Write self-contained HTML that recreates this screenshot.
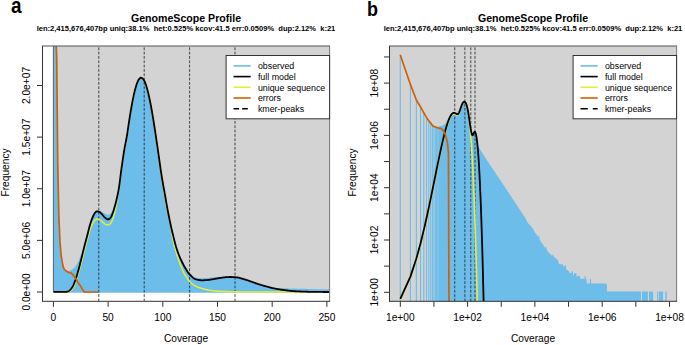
<!DOCTYPE html>
<html><head><meta charset="utf-8"><style>
html,body{margin:0;padding:0;background:#fff;}
svg{display:block;}
text{font-family:"Liberation Sans",sans-serif;fill:#000;}
.t{font-size:10.2px;}
.h{font-size:10.6px;font-weight:bold;}
.s{font-size:7.55px;font-weight:bold;}
.p{font-size:21px;font-weight:bold;}
.l{font-size:8.85px;}
</style></head><body>
<svg width="685" height="345" viewBox="0 0 685 345">
<rect width="685" height="345" fill="#fff"/>
<clipPath id="ca"><rect x="42.5" y="46.0" width="287.1" height="255.3"/></clipPath>
<clipPath id="cb"><rect x="389.5" y="46.0" width="287.1" height="255.3"/></clipPath>
<g clip-path="url(#ca)"><rect x="53.4" y="44.0" width="278.2" height="248" fill="#D3D3D3"/><line x1="53.4" y1="46.0" x2="53.4" y2="292.0" stroke="#333" stroke-width="0.8"/><path d="M53.93,292.7 L53.93,41 L55.05,41 L55.03,41 L56.15,41 L56.12,57.57 L57.24,57.57 L57.22,165.98 L58.34,165.98 L58.31,216.58 L59.43,216.58 L59.4,241.36 L60.52,241.36 L60.5,254.47 L61.62,254.47 L61.59,261.47 L62.71,261.47 L62.69,267.14 L63.81,267.14 L63.78,269.28 L64.9,269.28 L64.87,270.16 L65.99,270.16 L65.97,271.12 L67.09,271.12 L67.06,271.47 L68.18,271.47 L68.16,271.41 L69.28,271.41 L69.25,270.88 L70.37,270.88 L70.34,269.99 L71.46,269.99 L71.44,269.52 L72.56,269.52 L72.53,268.69 L73.65,268.69 L73.63,267.76 L74.75,267.76 L74.72,266.48 L75.84,266.48 L75.81,264.8 L76.93,264.8 L76.91,263.27 L78.03,263.27 L78,260.91 L79.12,260.91 L79.1,258.21 L80.22,258.21 L80.19,255.44 L81.31,255.44 L81.28,253.07 L82.4,253.07 L82.38,250.18 L83.5,250.18 L83.47,247.82 L84.59,247.82 L84.57,243.45 L85.69,243.45 L85.66,239.3 L86.78,239.3 L86.75,235.24 L87.87,235.24 L87.85,230.88 L88.97,230.88 L88.94,226.56 L90.06,226.56 L90.04,222.91 L91.16,222.91 L91.13,219.69 L92.25,219.69 L92.22,216.89 L93.34,216.89 L93.32,214.45 L94.44,214.45 L94.41,212.57 L95.53,212.57 L95.51,211.35 L96.63,211.35 L96.6,210.67 L97.72,210.67 L97.69,210.58 L98.81,210.58 L98.79,210.64 L99.91,210.64 L99.88,210.93 L101,210.93 L100.98,211.55 L102.1,211.55 L102.07,212.17 L103.19,212.17 L103.16,212.93 L104.28,212.93 L104.26,213.57 L105.38,213.57 L105.35,214.03 L106.47,214.03 L106.45,214.52 L107.57,214.52 L107.54,214.75 L108.66,214.75 L108.63,214.43 L109.75,214.43 L109.73,213.73 L110.85,213.73 L110.82,212.45 L111.94,212.45 L111.92,210.29 L113.04,210.29 L113.01,207.75 L114.13,207.75 L114.1,204.67 L115.22,204.67 L115.2,201.02 L116.32,201.02 L116.29,196.85 L117.41,196.85 L117.39,192.3 L118.51,192.3 L118.48,186.58 L119.6,186.58 L119.57,178.54 L120.69,178.54 L120.67,170.14 L121.79,170.14 L121.76,162.47 L122.88,162.47 L122.86,155.1 L123.98,155.1 L123.95,148.47 L125.07,148.47 L125.04,142.82 L126.16,142.82 L126.14,137.14 L127.26,137.14 L127.23,130.22 L128.35,130.22 L128.33,122.65 L129.45,122.65 L129.42,115.69 L130.54,115.69 L130.51,109.14 L131.63,109.14 L131.61,103.04 L132.73,103.04 L132.7,97.51 L133.82,97.51 L133.8,92.52 L134.92,92.52 L134.89,88.24 L136.01,88.24 L135.98,84.57 L137.1,84.57 L137.08,81.72 L138.2,81.72 L138.17,79.53 L139.29,79.53 L139.27,78.33 L140.39,78.33 L140.36,77.71 L141.48,77.71 L141.45,78.06 L142.57,78.06 L142.55,78.93 L143.67,78.93 L143.64,80.67 L144.76,80.67 L144.74,83.11 L145.86,83.11 L145.83,86.29 L146.95,86.29 L146.92,90.07 L148.04,90.07 L148.02,94.52 L149.14,94.52 L149.11,99.5 L150.23,99.5 L150.21,105.05 L151.33,105.05 L151.3,111.04 L152.42,111.04 L152.39,117.47 L153.51,117.47 L153.49,124.25 L154.61,124.25 L154.58,131.33 L155.7,131.33 L155.68,138.66 L156.8,138.66 L156.77,146.15 L157.89,146.15 L157.86,153.77 L158.98,153.77 L158.96,161.48 L160.08,161.48 L160.05,169.24 L161.17,169.24 L161.15,176.31 L162.27,176.31 L162.24,182.84 L163.36,182.84 L163.33,188.96 L164.45,188.96 L164.43,194.93 L165.55,194.93 L165.52,201.25 L166.64,201.25 L166.62,207.45 L167.74,207.45 L167.71,213.28 L168.83,213.28 L168.8,218.8 L169.92,218.8 L169.9,224.05 L171.02,224.05 L170.99,228.93 L172.11,228.93 L172.09,233.5 L173.21,233.5 L173.18,237.91 L174.3,237.91 L174.27,242.3 L175.39,242.3 L175.37,246.34 L176.49,246.34 L176.46,249.78 L177.58,249.78 L177.56,252.84 L178.68,252.84 L178.65,255.61 L179.77,255.61 L179.74,258.14 L180.86,258.14 L180.84,260.46 L181.96,260.46 L181.93,262.62 L183.05,262.62 L183.03,264.65 L184.15,264.65 L184.12,266.54 L185.24,266.54 L185.21,268.34 L186.33,268.34 L186.31,270.1 L187.43,270.1 L187.4,271.69 L188.52,271.69 L188.5,273 L189.62,273 L189.59,274.08 L190.71,274.08 L190.68,275.11 L191.8,275.11 L191.78,276.04 L192.9,276.04 L192.87,276.82 L193.99,276.82 L193.97,277.4 L195.09,277.4 L195.06,277.74 L196.18,277.74 L196.15,277.92 L197.27,277.92 L197.25,278.08 L198.37,278.08 L198.34,278.2 L199.46,278.2 L199.44,278.28 L200.56,278.28 L200.53,278.3 L201.65,278.3 L201.62,278.27 L202.74,278.27 L202.72,278.2 L203.84,278.2 L203.81,278.12 L204.93,278.12 L204.91,278.03 L206.03,278.03 L206,277.96 L207.12,277.96 L207.09,277.89 L208.21,277.89 L208.19,277.78 L209.31,277.78 L209.28,277.64 L210.4,277.64 L210.38,277.5 L211.5,277.5 L211.47,277.38 L212.59,277.38 L212.56,277.28 L213.68,277.28 L213.66,277.19 L214.78,277.19 L214.75,277.11 L215.87,277.11 L215.85,277.04 L216.97,277.04 L216.94,276.97 L218.06,276.97 L218.03,276.9 L219.15,276.9 L219.13,276.85 L220.25,276.85 L220.22,276.8 L221.34,276.8 L221.32,276.75 L222.44,276.75 L222.41,276.69 L223.53,276.69 L223.5,276.64 L224.62,276.64 L224.6,276.61 L225.72,276.61 L225.69,276.61 L226.81,276.61 L226.79,276.62 L227.91,276.62 L227.88,276.64 L229,276.64 L228.97,276.66 L230.09,276.66 L230.07,276.71 L231.19,276.71 L231.16,276.78 L232.28,276.78 L232.26,276.87 L233.38,276.87 L233.35,276.97 L234.47,276.97 L234.44,277.09 L235.56,277.09 L235.54,277.22 L236.66,277.22 L236.63,277.35 L237.75,277.35 L237.73,277.54 L238.85,277.54 L238.82,277.81 L239.94,277.81 L239.91,278.12 L241.03,278.12 L241.01,278.45 L242.13,278.45 L242.1,278.78 L243.22,278.78 L243.2,279.1 L244.32,279.1 L244.29,279.43 L245.41,279.43 L245.38,279.79 L246.5,279.79 L246.48,280.15 L247.6,280.15 L247.57,280.52 L248.69,280.52 L248.67,280.9 L249.79,280.9 L249.76,281.27 L250.88,281.27 L250.85,281.65 L251.97,281.65 L251.95,282.05 L253.07,282.05 L253.04,282.45 L254.16,282.45 L254.14,282.85 L255.26,282.85 L255.23,283.25 L256.35,283.25 L256.32,283.63 L257.44,283.63 L257.42,283.99 L258.54,283.99 L258.51,284.34 L259.63,284.34 L259.61,284.68 L260.73,284.68 L260.7,285.01 L261.82,285.01 L261.79,285.34 L262.91,285.34 L262.89,285.66 L264.01,285.66 L263.98,285.97 L265.1,285.97 L265.08,286.27 L266.2,286.27 L266.17,286.57 L267.29,286.57 L267.26,286.86 L268.38,286.86 L268.36,287.14 L269.48,287.14 L269.45,287.43 L270.57,287.43 L270.55,287.71 L271.67,287.71 L271.64,287.85 L272.76,287.85 L272.73,287.89 L273.85,287.89 L273.83,287.93 L274.95,287.93 L274.92,287.96 L276.04,287.96 L276.02,288 L277.14,288 L277.11,288.04 L278.23,288.04 L278.2,288.08 L279.32,288.08 L279.3,288.11 L280.42,288.11 L280.39,288.15 L281.51,288.15 L281.49,288.19 L282.61,288.19 L282.58,288.22 L283.7,288.22 L283.67,288.25 L284.79,288.25 L284.77,288.29 L285.89,288.29 L285.86,288.32 L286.98,288.32 L286.96,288.36 L288.08,288.36 L288.05,288.39 L289.17,288.39 L289.14,288.42 L290.26,288.42 L290.24,288.45 L291.36,288.45 L291.33,288.48 L292.45,288.48 L292.43,288.51 L293.55,288.51 L293.52,288.54 L294.64,288.54 L294.61,288.57 L295.73,288.57 L295.71,288.6 L296.83,288.6 L296.8,288.63 L297.92,288.63 L297.9,288.66 L299.02,288.66 L298.99,288.69 L300.11,288.69 L300.08,288.72 L301.2,288.72 L301.18,288.75 L302.3,288.75 L302.27,288.77 L303.39,288.77 L303.37,288.8 L304.49,288.8 L304.46,288.83 L305.58,288.83 L305.55,288.86 L306.67,288.86 L306.65,288.88 L307.77,288.88 L307.74,288.91 L308.86,288.91 L308.84,288.93 L309.96,288.93 L309.93,288.96 L311.05,288.96 L311.02,288.98 L312.14,288.98 L312.12,289.01 L313.24,289.01 L313.21,289.03 L314.33,289.03 L314.31,289.06 L315.43,289.06 L315.4,289.08 L316.52,289.08 L316.49,289.1 L317.61,289.1 L317.59,289.13 L318.71,289.13 L318.68,289.15 L319.8,289.15 L319.78,289.17 L320.9,289.17 L320.87,289.19 L321.99,289.19 L321.96,289.21 L323.08,289.21 L323.06,289.24 L324.18,289.24 L324.15,289.26 L325.27,289.26 L325.25,289.28 L326.37,289.28 L326.34,289.3 L327.46,289.3 L327.43,289.32 L328.55,289.32 L328.53,289.34 L329.65,289.34 L329.62,289.36 L330.74,289.36 L330.72,289.38 L331.84,289.38 L331.81,289.4 L332.93,289.4 L332.9,289.42 L334.02,289.42 L334,289.44 L335.12,289.44 L335.09,289.46 L336.21,289.46 L336.19,289.48 L337.31,289.48 L337.28,289.5 L338.4,289.5 L338.4,292.7 Z" fill="#6CBDEA"/><line x1="98.8" y1="301.3" x2="98.8" y2="46.0" stroke="#222" stroke-width="0.8" stroke-dasharray="2.8,1.53"/><line x1="144.2" y1="301.3" x2="144.2" y2="46.0" stroke="#222" stroke-width="0.8" stroke-dasharray="2.8,1.53"/><line x1="189.6" y1="301.3" x2="189.6" y2="46.0" stroke="#222" stroke-width="0.8" stroke-dasharray="2.8,1.53"/><line x1="235" y1="301.3" x2="235" y2="46.0" stroke="#222" stroke-width="0.8" stroke-dasharray="2.8,1.53"/><path d="M53.4,292 L53.9,292 L54.4,292 L54.9,292 L55.4,292 L55.9,292 L56.4,292 L56.9,292 L57.4,292 L57.9,292 L58.4,292 L58.9,292 L59.4,292 L59.9,292 L60.4,292 L60.9,292 L61.4,292 L61.9,292 L62.4,292 L62.9,292 L63.4,292 L63.9,292 L64.4,292 L64.9,291.99 L65.4,291.98 L65.9,291.97 L66.4,291.95 L66.9,291.93 L67.4,291.91 L67.9,291.86 L68.4,291.74 L68.9,291.58 L69.4,291.37 L69.9,291.12 L70.4,290.86 L70.9,290.53 L71.4,290.07 L71.9,289.51 L72.4,288.86 L72.9,288.15 L73.4,287.34 L73.9,286.36 L74.4,285.23 L74.9,284.02 L75.4,282.75 L75.9,281.45 L76.4,280.03 L76.9,278.53 L77.4,276.95 L77.9,275.33 L78.4,273.66 L78.9,271.93 L79.4,270.11 L79.9,268.23 L80.4,266.31 L80.9,264.39 L81.4,262.44 L81.9,260.46 L82.4,258.44 L82.9,256.42 L83.4,254.4 L83.9,252.39 L84.4,250.36 L84.9,248.33 L85.4,246.33 L85.9,244.38 L86.4,242.5 L86.9,240.65 L87.4,238.84 L87.9,237.07 L88.4,235.34 L88.9,233.63 L89.4,231.9 L89.9,230.21 L90.4,228.64 L90.9,227.25 L91.4,226.04 L91.9,224.92 L92.4,223.9 L92.9,222.97 L93.4,222.15 L93.9,221.4 L94.4,220.69 L94.9,220.08 L95.4,219.66 L95.9,219.41 L96.4,219.2 L96.9,219.05 L97.4,219 L97.9,219.05 L98.4,219.18 L98.9,219.36 L99.4,219.56 L99.9,219.8 L100.4,220.15 L100.9,220.56 L101.4,220.99 L101.9,221.42 L102.4,221.84 L102.9,222.3 L103.4,222.78 L103.9,223.23 L104.4,223.63 L104.9,223.95 L105.4,224.19 L105.9,224.43 L106.4,224.64 L106.9,224.82 L107.4,224.94 L107.9,225 L108.4,224.95 L108.9,224.77 L109.4,224.48 L109.9,224.11 L110.4,223.69 L110.9,223.12 L111.4,222.24 L111.9,221.14 L112.4,219.94 L112.9,218.66 L113.4,217.18 L113.9,215.52 L114.4,213.69 L114.9,211.63 L115.4,209.27 L115.9,206.66 L116.4,203.81 L116.9,200.47 L117.4,196.92 L117.9,193.56 L118.4,190.77 L118.9,188.08 L119.4,184.69 L119.9,180.82 L120.4,176.85 L120.9,172.83 L121.4,169.13 L121.9,165.6 L122.4,162.08 L122.9,158.63 L123.4,155.3 L123.9,152.11 L124.4,149.18 L124.9,146.43 L125.4,143.86 L125.9,141.38 L126.4,138.76 L126.9,136 L127.4,132.86 L127.9,129.45 L128.4,126.02 L128.9,122.58 L129.4,119.32 L129.9,116.18 L130.4,113.12 L130.9,110.15 L131.4,107.27 L131.9,104.49 L132.4,101.83 L132.9,99.27 L133.4,96.84 L133.9,94.52 L134.4,92.35 L134.9,90.31 L135.4,88.41 L135.9,86.64 L136.4,85.04 L136.9,83.58 L137.4,82.26 L137.9,81.09 L138.4,80.12 L138.9,79.32 L139.4,78.71 L139.9,78.24 L140.4,77.91 L140.9,77.71 L141.4,77.78 L141.9,78 L142.4,78.3 L142.9,78.73 L143.4,79.32 L143.9,80.1 L144.4,81.05 L144.9,82.17 L145.4,83.41 L145.9,84.78 L146.4,86.3 L146.9,87.98 L147.4,89.77 L147.9,91.69 L148.4,93.74 L148.9,95.93 L149.4,98.22 L149.9,100.62 L150.4,103.13 L150.9,105.75 L151.4,108.47 L151.9,111.27 L152.4,114.17 L152.9,117.15 L153.4,120.19 L153.9,123.32 L154.4,126.5 L154.9,129.75 L155.4,133.04 L155.9,136.39 L156.4,139.77 L156.9,143.19 L157.4,146.64 L157.9,150.11 L158.4,153.59 L158.9,157.1 L159.4,160.65 L159.9,164.22 L160.4,167.86 L160.9,171.49 L161.4,174.9 L161.9,178.16 L162.4,181.35 L162.9,184.44 L163.4,187.43 L163.9,190.35 L164.4,193.25 L164.9,196.16 L165.4,199.18 L165.9,202.27 L166.4,205.41 L166.9,208.43 L167.4,210.8 L167.9,212.8 L168.4,214.62 L168.9,216.47 L169.4,218.56 L169.9,221.09 L170.4,224.11 L170.9,227.32 L171.4,230.42 L171.9,233.28 L172.4,236.08 L172.9,238.77 L173.4,241.24 L173.9,243.47 L174.4,245.55 L174.9,247.5 L175.4,249.36 L175.9,251.15 L176.4,252.87 L176.9,254.52 L177.4,256.11 L177.9,257.64 L178.4,259.12 L178.9,260.58 L179.4,261.99 L179.9,263.37 L180.4,264.7 L180.9,265.99 L181.4,267.25 L181.9,268.49 L182.4,269.72 L182.9,270.89 L183.4,272 L183.9,273 L184.4,273.9 L184.9,274.73 L185.4,275.5 L185.9,276.25 L186.4,277 L186.9,277.76 L187.4,278.54 L187.9,279.3 L188.4,280.02 L188.9,280.68 L189.4,281.26 L189.9,281.8 L190.4,282.31 L190.9,282.78 L191.4,283.24 L191.9,283.67 L192.4,284.08 L192.9,284.46 L193.4,284.8 L193.9,285.14 L194.4,285.46 L194.9,285.76 L195.4,286.05 L195.9,286.31 L196.4,286.55 L196.9,286.78 L197.4,286.98 L197.9,287.18 L198.4,287.37 L198.9,287.55 L199.4,287.72 L199.9,287.89 L200.4,288.05 L200.9,288.2 L201.4,288.35 L201.9,288.5 L202.4,288.65 L202.9,288.79 L203.4,288.93 L203.9,289.07 L204.4,289.2 L204.9,289.33 L205.4,289.45 L205.9,289.57 L206.4,289.68 L206.9,289.78 L207.4,289.88 L207.9,289.97 L208.4,290.06 L208.9,290.15 L209.4,290.23 L209.9,290.31 L210.4,290.39 L210.9,290.46 L211.4,290.53 L211.9,290.59 L212.4,290.65 L212.9,290.71 L213.4,290.76 L213.9,290.82 L214.4,290.87 L214.9,290.92 L215.4,290.96 L215.9,291.01 L216.4,291.05 L216.9,291.09 L217.4,291.13 L217.9,291.17 L218.4,291.2 L218.9,291.24 L219.4,291.27 L219.9,291.29 L220.4,291.32 L220.9,291.35 L221.4,291.37 L221.9,291.4 L222.4,291.42 L222.9,291.45 L223.4,291.47 L223.9,291.5 L224.4,291.52 L224.9,291.54 L225.4,291.57 L225.9,291.59 L226.4,291.61 L226.9,291.63 L227.4,291.65 L227.9,291.67 L228.4,291.68 L228.9,291.7 L229.4,291.72 L229.9,291.74 L230.4,291.75 L230.9,291.77 L231.4,291.78 L231.9,291.79 L232.4,291.8 L232.9,291.82 L233.4,291.83 L233.9,291.84 L234.4,291.85 L234.9,291.85 L235.4,291.86 L235.9,291.87 L236.4,291.88 L236.9,291.88 L237.4,291.89 L237.9,291.9 L238.4,291.91 L238.9,291.91 L239.4,291.92 L239.9,291.93 L240.4,291.93 L240.9,291.94 L241.4,291.94 L241.9,291.95 L242.4,291.96 L242.9,291.96 L243.4,291.97 L243.9,291.97 L244.4,291.97 L244.9,291.98 L245.4,291.98 L245.9,291.99 L246.4,291.99 L246.9,291.99 L247.4,291.99 L247.9,292 L248.4,292 L248.9,292 L249.4,292 L249.9,292 L250.4,292 L250.9,292 L251.4,292 L251.9,292 L252.4,292 L252.9,292 L253.4,292 L253.9,292 L254.4,292 L254.9,292 L255.4,292 L255.9,292 L256.4,292 L256.9,292 L257.4,292 L257.9,292 L258.4,292 L258.9,292 L259.4,292 L259.9,292 L260.4,292 L260.9,292 L261.4,292 L261.9,292 L262.4,292 L262.9,292 L263.4,292 L263.9,292 L264.4,292 L264.9,292 L265.4,292 L265.9,292 L266.4,292 L266.9,292 L267.4,292 L267.9,292 L268.4,292 L268.9,292 L269.4,292 L269.9,292 L270.4,292 L270.9,292 L271.4,292 L271.9,292 L272.4,292 L272.9,292 L273.4,292 L273.9,292 L274.4,292 L274.9,292 L275.4,292 L275.9,292 L276.4,292 L276.9,292 L277.4,292 L277.9,292 L278.4,292 L278.9,292 L279.4,292 L279.9,292 L280.4,292 L280.9,292 L281.4,292 L281.9,292 L282.4,292 L282.9,292 L283.4,292 L283.9,292 L284.4,292 L284.9,292 L285.4,292 L285.9,292 L286.4,292 L286.9,292 L287.4,292 L287.9,292 L288.4,292 L288.9,292 L289.4,292 L289.9,292 L290.4,292 L290.9,292 L291.4,292 L291.9,292 L292.4,292 L292.9,292 L293.4,292 L293.9,292 L294.4,292 L294.9,292 L295.4,292 L295.9,292 L296.4,292 L296.9,292 L297.4,292 L297.9,292 L298.4,292 L298.9,292 L299.4,292 L299.9,292 L300.4,292 L300.9,292 L301.4,292 L301.9,292 L302.4,292 L302.9,292 L303.4,292 L303.9,292 L304.4,292 L304.9,292 L305.4,292 L305.9,292 L306.4,292 L306.9,292 L307.4,292 L307.9,292 L308.4,292 L308.9,292 L309.4,292 L309.9,292 L310.4,292 L310.9,292 L311.4,292 L311.9,292 L312.4,292 L312.9,292 L313.4,292 L313.9,292 L314.4,292 L314.9,292 L315.4,292 L315.9,292 L316.4,292 L316.9,292 L317.4,292 L317.9,292 L318.4,292 L318.9,292 L319.4,292 L319.9,292 L320.4,292 L320.9,292 L321.4,292 L321.9,292 L322.4,292 L322.9,292 L323.4,292 L323.9,292 L324.4,292 L324.9,292 L325.4,292 L325.9,292 L326.4,292 L326.9,292 L327.4,292 L327.9,292 L328.4,292 L328.9,292 L329.4,292 L329.9,292 L330.4,292" fill="none" stroke="#E4EC40" stroke-width="1.55" stroke-linejoin="round"/><path d="M53.4,291.95 L53.9,291.95 L54.4,291.95 L54.9,291.95 L55.4,291.95 L55.9,291.95 L56.4,291.95 L56.9,291.95 L57.4,291.95 L57.9,291.95 L58.4,291.95 L58.9,291.95 L59.4,291.95 L59.9,291.95 L60.4,291.95 L60.9,291.95 L61.4,291.94 L61.9,291.94 L62.4,291.93 L62.9,291.92 L63.4,291.91 L63.9,291.9 L64.4,291.89 L64.9,291.87 L65.4,291.85 L65.9,291.82 L66.4,291.78 L66.9,291.73 L67.4,291.67 L67.9,291.5 L68.4,291.23 L68.9,290.89 L69.4,290.52 L69.9,290.12 L70.4,289.65 L70.9,289.09 L71.4,288.45 L71.9,287.74 L72.4,286.96 L72.9,286.1 L73.4,285.08 L73.9,283.94 L74.4,282.71 L74.9,281.42 L75.4,280.09 L75.9,278.65 L76.4,277.11 L76.9,275.5 L77.4,273.82 L77.9,272.1 L78.4,270.29 L78.9,268.4 L79.4,266.45 L79.9,264.47 L80.4,262.51 L80.9,260.52 L81.4,258.5 L81.9,256.46 L82.4,254.42 L82.9,252.4 L83.4,250.38 L83.9,248.36 L84.4,246.34 L84.9,244.34 L85.4,242.39 L85.9,240.48 L86.4,238.64 L86.9,236.8 L87.4,234.92 L87.9,232.95 L88.4,230.92 L88.9,228.9 L89.4,226.96 L89.9,225.16 L90.4,223.55 L90.9,222.01 L91.4,220.55 L91.9,219.17 L92.4,217.89 L92.9,216.72 L93.4,215.62 L93.9,214.56 L94.4,213.63 L94.9,212.91 L95.4,212.39 L95.9,211.91 L96.4,211.53 L96.9,211.32 L97.4,211.32 L97.9,211.4 L98.4,211.55 L98.9,211.74 L99.4,211.96 L99.9,212.23 L100.4,212.64 L100.9,213.13 L101.4,213.67 L101.9,214.2 L102.4,214.73 L102.9,215.31 L103.4,215.92 L103.9,216.51 L104.4,217.06 L104.9,217.52 L105.4,217.91 L105.9,218.31 L106.4,218.69 L106.9,219.02 L107.4,219.26 L107.9,219.39 L108.4,219.36 L108.9,219.17 L109.4,218.83 L109.9,218.4 L110.4,217.9 L110.9,217.26 L111.4,216.29 L111.9,215.11 L112.4,213.85 L112.9,212.55 L113.4,211.09 L113.9,209.51 L114.4,207.84 L114.9,206.08 L115.4,204.19 L115.9,202.19 L116.4,200.09 L116.9,197.93 L117.4,195.74 L117.9,193.44 L118.4,190.92 L118.9,188.1 L119.4,184.7 L119.9,180.84 L120.4,176.79 L120.9,172.83 L121.4,169.17 L121.9,165.6 L122.4,162.08 L122.9,158.63 L123.4,155.3 L123.9,152.12 L124.4,149.14 L124.9,146.42 L125.4,143.87 L125.9,141.37 L126.4,138.78 L126.9,136 L127.4,132.88 L127.9,129.47 L128.4,125.97 L128.9,122.56 L129.4,119.34 L129.9,116.19 L130.4,113.11 L130.9,110.14 L131.4,107.28 L131.9,104.49 L132.4,101.81 L132.9,99.27 L133.4,96.85 L133.9,94.53 L134.4,92.33 L134.9,90.3 L135.4,88.43 L135.9,86.65 L136.4,85.01 L136.9,83.57 L137.4,82.3 L137.9,81.11 L138.4,80.08 L138.9,79.3 L139.4,78.75 L139.9,78.26 L140.4,77.89 L140.9,77.71 L141.4,77.77 L141.9,77.99 L142.4,78.33 L142.9,78.74 L143.4,79.28 L143.9,80.09 L144.4,81.09 L144.9,82.19 L145.4,83.38 L145.9,84.77 L146.4,86.33 L146.9,87.99 L147.4,89.75 L147.9,91.69 L148.4,93.76 L148.9,95.93 L149.4,98.2 L149.9,100.62 L150.4,103.14 L150.9,105.76 L151.4,108.46 L151.9,111.27 L152.4,114.18 L152.9,117.15 L153.4,120.19 L153.9,123.31 L154.4,126.51 L154.9,129.75 L155.4,133.04 L155.9,136.38 L156.4,139.78 L156.9,143.19 L157.4,146.63 L157.9,150.11 L158.4,153.61 L158.9,157.11 L159.4,160.64 L159.9,164.23 L160.4,167.77 L160.9,171.18 L161.4,174.4 L161.9,177.5 L162.4,180.5 L162.9,183.42 L163.4,186.26 L163.9,189 L164.4,191.7 L164.9,194.44 L165.4,197.28 L165.9,200.2 L166.4,203.11 L166.9,205.95 L167.4,208.68 L167.9,211.35 L168.4,213.96 L168.9,216.5 L169.4,218.99 L169.9,221.44 L170.4,223.81 L170.9,226.1 L171.4,228.31 L171.9,230.45 L172.4,232.53 L172.9,234.58 L173.4,236.6 L173.9,238.61 L174.4,240.64 L174.9,242.63 L175.4,244.54 L175.9,246.33 L176.4,247.97 L176.9,249.52 L177.4,250.99 L177.9,252.39 L178.4,253.72 L178.9,255.01 L179.4,256.24 L179.9,257.42 L180.4,258.56 L180.9,259.65 L181.4,260.71 L181.9,261.73 L182.4,262.73 L182.9,263.71 L183.4,264.65 L183.9,265.57 L184.4,266.46 L184.9,267.33 L185.4,268.18 L185.9,269.04 L186.4,269.89 L186.9,270.72 L187.4,271.51 L187.9,272.26 L188.4,272.95 L188.9,273.57 L189.4,274.13 L189.9,274.67 L190.4,275.21 L190.9,275.73 L191.4,276.23 L191.9,276.71 L192.4,277.17 L192.9,277.6 L193.4,277.99 L193.9,278.34 L194.4,278.64 L194.9,278.9 L195.4,279.11 L195.9,279.26 L196.4,279.39 L196.9,279.52 L197.4,279.65 L197.9,279.76 L198.4,279.87 L198.9,279.97 L199.4,280.06 L199.9,280.13 L200.4,280.19 L200.9,280.24 L201.4,280.28 L201.9,280.3 L202.4,280.3 L202.9,280.29 L203.4,280.28 L203.9,280.27 L204.4,280.25 L204.9,280.22 L205.4,280.2 L205.9,280.17 L206.4,280.14 L206.9,280.11 L207.4,280.07 L207.9,280.02 L208.4,279.96 L208.9,279.89 L209.4,279.81 L209.9,279.72 L210.4,279.63 L210.9,279.54 L211.4,279.44 L211.9,279.35 L212.4,279.27 L212.9,279.18 L213.4,279.1 L213.9,279.02 L214.4,278.93 L214.9,278.85 L215.4,278.76 L215.9,278.68 L216.4,278.59 L216.9,278.5 L217.4,278.42 L217.9,278.33 L218.4,278.25 L218.9,278.17 L219.4,278.09 L219.9,278.01 L220.4,277.94 L220.9,277.86 L221.4,277.78 L221.9,277.71 L222.4,277.63 L222.9,277.55 L223.4,277.48 L223.9,277.41 L224.4,277.35 L224.9,277.3 L225.4,277.25 L225.9,277.21 L226.4,277.17 L226.9,277.14 L227.4,277.11 L227.9,277.08 L228.4,277.05 L228.9,277.03 L229.4,277.01 L229.9,277 L230.4,277 L230.9,277 L231.4,277.01 L231.9,277.03 L232.4,277.05 L232.9,277.07 L233.4,277.1 L233.9,277.14 L234.4,277.17 L234.9,277.21 L235.4,277.26 L235.9,277.3 L236.4,277.35 L236.9,277.4 L237.4,277.46 L237.9,277.54 L238.4,277.63 L238.9,277.74 L239.4,277.87 L239.9,278 L240.4,278.14 L240.9,278.28 L241.4,278.43 L241.9,278.58 L242.4,278.73 L242.9,278.87 L243.4,279.01 L243.9,279.16 L244.4,279.31 L244.9,279.46 L245.4,279.62 L245.9,279.78 L246.4,279.95 L246.9,280.11 L247.4,280.28 L247.9,280.45 L248.4,280.62 L248.9,280.79 L249.4,280.96 L249.9,281.13 L250.4,281.3 L250.9,281.48 L251.4,281.65 L251.9,281.83 L252.4,282.01 L252.9,282.19 L253.4,282.38 L253.9,282.56 L254.4,282.75 L254.9,282.93 L255.4,283.11 L255.9,283.29 L256.4,283.46 L256.9,283.64 L257.4,283.8 L257.9,283.97 L258.4,284.13 L258.9,284.29 L259.4,284.44 L259.9,284.6 L260.4,284.75 L260.9,284.91 L261.4,285.06 L261.9,285.21 L262.4,285.35 L262.9,285.5 L263.4,285.65 L263.9,285.79 L264.4,285.93 L264.9,286.07 L265.4,286.21 L265.9,286.35 L266.4,286.48 L266.9,286.62 L267.4,286.75 L267.9,286.88 L268.4,287.01 L268.9,287.14 L269.4,287.27 L269.9,287.4 L270.4,287.53 L270.9,287.65 L271.4,287.78 L271.9,287.9 L272.4,288.02 L272.9,288.14 L273.4,288.26 L273.9,288.37 L274.4,288.48 L274.9,288.58 L275.4,288.68 L275.9,288.78 L276.4,288.87 L276.9,288.96 L277.4,289.05 L277.9,289.14 L278.4,289.22 L278.9,289.31 L279.4,289.39 L279.9,289.47 L280.4,289.54 L280.9,289.62 L281.4,289.69 L281.9,289.76 L282.4,289.83 L282.9,289.9 L283.4,289.97 L283.9,290.04 L284.4,290.11 L284.9,290.17 L285.4,290.24 L285.9,290.3 L286.4,290.37 L286.9,290.44 L287.4,290.5 L287.9,290.56 L288.4,290.63 L288.9,290.69 L289.4,290.75 L289.9,290.81 L290.4,290.86 L290.9,290.91 L291.4,290.96 L291.9,291.01 L292.4,291.05 L292.9,291.09 L293.4,291.13 L293.9,291.16 L294.4,291.2 L294.9,291.23 L295.4,291.26 L295.9,291.29 L296.4,291.32 L296.9,291.35 L297.4,291.38 L297.9,291.4 L298.4,291.43 L298.9,291.45 L299.4,291.47 L299.9,291.5 L300.4,291.52 L300.9,291.54 L301.4,291.56 L301.9,291.58 L302.4,291.59 L302.9,291.61 L303.4,291.63 L303.9,291.64 L304.4,291.66 L304.9,291.67 L305.4,291.69 L305.9,291.71 L306.4,291.72 L306.9,291.73 L307.4,291.75 L307.9,291.76 L308.4,291.78 L308.9,291.79 L309.4,291.8 L309.9,291.81 L310.4,291.82 L310.9,291.83 L311.4,291.84 L311.9,291.85 L312.4,291.86 L312.9,291.87 L313.4,291.88 L313.9,291.89 L314.4,291.89 L314.9,291.9 L315.4,291.9 L315.9,291.91 L316.4,291.91 L316.9,291.92 L317.4,291.92 L317.9,291.93 L318.4,291.93 L318.9,291.94 L319.4,291.94 L319.9,291.95 L320.4,291.95 L320.9,291.96 L321.4,291.96 L321.9,291.97 L322.4,291.97 L322.9,291.97 L323.4,291.98 L323.9,291.98 L324.4,291.98 L324.9,291.99 L325.4,291.99 L325.9,291.99 L326.4,291.99 L326.9,291.99 L327.4,292 L327.9,292 L328.4,292 L328.9,292 L329.4,292 L329.9,292 L330.4,292" fill="none" stroke="#000" stroke-width="1.8" stroke-linejoin="round"/><path d="M54.49,26 L55.59,26 L56.68,57.62 L57.78,166.03 L58.87,216.63 L59.96,241.41 L61.06,254.52 L62.15,261.54 L63.25,267.22 L64.34,269.39 L65.43,270.32 L66.53,271.35 L67.62,271.87 L68.72,272.38 L69.81,272.69 L70.9,272.9 L72,273.93 L73.09,274.96 L74.19,276.51 L75.28,278.06 L76.37,279.61 L77.47,281.68 L78.56,283.22 L79.66,284.77 L80.75,286.32 L81.84,288.39 L82.94,289.94 L84.03,292 L85.13,292 L86.22,292 L87.31,292 L88.41,292 L89.5,292 L90.6,292 L91.69,292 L92.78,292 L93.88,292 L94.97,292 L96.07,292 L97.16,292 L98.25,292" fill="none" stroke="#D55E00" stroke-width="1.7" stroke-linejoin="round"/></g>
<g clip-path="url(#cb)"><rect x="389.5" y="46.0" width="287.1" height="255.3" fill="#D3D3D3"/><rect x="399.75" y="54.37" width="1.1" height="247.93" fill="#6CBDEA"/><rect x="409.88" y="83.72" width="1.1" height="218.58" fill="#6CBDEA"/><rect x="415.81" y="99.24" width="1.1" height="203.06" fill="#6CBDEA"/><rect x="420.01" y="106.29" width="1.1" height="196.01" fill="#6CBDEA"/><rect x="423.27" y="112.12" width="1.1" height="190.18" fill="#6CBDEA"/><rect x="425.93" y="116.65" width="1.1" height="185.65" fill="#6CBDEA"/><rect x="428.19" y="120.05" width="1.1" height="182.25" fill="#6CBDEA"/><rect x="430.14" y="122.4" width="1.1" height="179.9" fill="#6CBDEA"/><rect x="431.86" y="124.72" width="1.1" height="177.58" fill="#6CBDEA"/><rect x="433.4" y="125.72" width="1.1" height="176.58" fill="#6CBDEA"/><rect x="434.79" y="126.12" width="1.1" height="176.18" fill="#6CBDEA"/><rect x="436.06" y="126.55" width="1.1" height="175.75" fill="#6CBDEA"/><rect x="437.23" y="126.65" width="1.1" height="175.65" fill="#6CBDEA"/><rect x="438.32" y="126.66" width="1.1" height="175.64" fill="#6CBDEA"/><rect x="439.33" y="126.45" width="1.1" height="175.85" fill="#6CBDEA"/><rect x="440.27" y="126.06" width="1.1" height="176.24" fill="#6CBDEA"/><rect x="441.15" y="125.95" width="1.1" height="176.35" fill="#6CBDEA"/><rect x="441.99" y="125.66" width="1.1" height="176.64" fill="#6CBDEA"/><rect x="442.78" y="125.43" width="1.1" height="176.87" fill="#6CBDEA"/><rect x="443.53" y="125.01" width="1.1" height="177.29" fill="#6CBDEA"/><rect x="444.24" y="124.41" width="1.1" height="177.89" fill="#6CBDEA"/><rect x="444.92" y="123.87" width="1.1" height="178.43" fill="#6CBDEA"/><rect x="445.57" y="122.99" width="1.1" height="179.31" fill="#6CBDEA"/><rect x="446.19" y="122.03" width="1.1" height="180.27" fill="#6CBDEA"/><rect x="446.79" y="121.04" width="1.1" height="181.26" fill="#6CBDEA"/><rect x="447.36" y="120.22" width="1.1" height="182.08" fill="#6CBDEA"/><rect x="447.92" y="119.26" width="1.1" height="183.04" fill="#6CBDEA"/><rect x="448.45" y="118.49" width="1.1" height="183.81" fill="#6CBDEA"/><rect x="448.96" y="117.29" width="1.1" height="185.01" fill="#6CBDEA"/><rect x="449.46" y="116.23" width="1.1" height="186.07" fill="#6CBDEA"/><path d="M438.87,302.3 L438.87,126.66 L439.88,126.45 L440.82,126.06 L441.7,125.95 L442.54,125.66 L443.33,125.43 L444.08,125.01 L444.79,124.41 L445.47,123.87 L446.12,122.99 L446.74,122.03 L447.34,121.04 L447.91,120.22 L448.47,119.26 L449,118.49 L449.51,117.29 L450.01,116.23 L450.48,115.31 L450.95,114.53 L451.4,113.87 L451.83,113.33 L452.26,112.89 L452.67,112.56 L453.07,112.32 L453.46,112.17 L453.84,112.09 L454.21,112.07 L454.57,112.1 L454.92,112.17 L455.27,112.26 L455.6,112.37 L455.93,112.49 L456.25,112.59 L456.57,112.68 L456.87,112.74 L457.18,112.77 L457.47,112.75 L457.76,112.69 L458.04,112.57 L458.32,112.37 L458.6,112.1 L458.86,111.74 L459.13,111.3 L459.39,110.79 L459.64,110.22 L459.89,109.59 L460.13,108.93 L460.38,108.26 L460.61,107.58 L460.85,106.9 L461.08,106.25 L461.3,105.62 L461.53,105.02 L461.75,104.46 L461.96,103.94 L462.18,103.46 L462.39,103.02 L462.59,102.62 L462.8,102.27 L463,101.96 L463.2,101.7 L463.4,101.48 L463.59,101.3 L463.78,101.16 L463.97,101.07 L464.16,101.01 L464.34,100.99 L464.52,101.02 L464.7,101.08 L464.88,101.18 L465.05,101.31 L465.22,101.49 L465.4,101.7 L465.56,101.95 L465.73,102.23 L465.9,102.55 L466.06,102.9 L466.22,103.29 L466.38,103.72 L466.54,104.18 L466.7,104.67 L466.85,105.2 L467,105.76 L467.15,106.36 L467.3,106.99 L467.45,107.65 L467.6,108.34 L467.75,109.06 L467.89,109.81 L468.03,110.58 L468.17,111.38 L468.31,112.21 L468.45,113.05 L468.59,113.92 L468.72,114.8 L468.86,115.69 L468.99,116.59 L469.13,117.5 L469.26,118.41 L469.39,119.32 L469.51,120.23 L469.64,121.12 L469.77,122.01 L469.89,122.88 L470.02,123.73 L470.14,124.56 L470.26,125.37 L470.39,126.15 L470.51,126.91 L470.63,127.65 L470.74,128.36 L470.86,129.04 L470.98,129.69 L471.09,130.31 L471.21,130.9 L471.32,131.46 L471.43,131.98 L471.55,132.46 L471.66,132.9 L471.77,133.29 L471.88,133.64 L471.99,133.93 L472.09,134.16 L472.2,134.34 L472.31,134.47 L472.41,134.53 L472.52,134.55 L472.62,134.51 L472.72,134.43 L472.83,134.31 L472.93,134.16 L473.03,133.98 L473.13,133.77 L473.23,133.55 L473.33,133.32 L473.43,133.09 L473.53,132.85 L473.62,132.62 L473.72,132.39 L473.81,132.18 L473.91,131.98 L474,131.8 L474.1,131.64 L474.19,131.49 L474.28,131.37 L474.38,131.27 L474.47,131.19 L474.56,131.13 L474.65,131.1 L474.74,131.1 L474.83,131.11 L474.92,131.16 L475.01,131.22 L475.09,131.31 L475.18,131.43 L475.27,131.57 L475.35,131.74 L475.44,131.92 L475.53,132.14 L475.61,132.38 L475.69,132.64 L475.78,132.92 L475.86,133.23 L475.94,133.56 L476.03,133.91 L476.11,134.29 L476.19,134.69 L476.27,135.11 L476.35,135.55 L476.43,136.02 L476.51,136.51 L476.59,137.02 L476.67,137.55 L476.75,138.1 L476.83,138.67 L476.9,139.26 L476.98,139.88 L477.06,140.51 L477.13,141.17 L477.21,141.84 L477.28,142.54 L477.36,143.25 L477.43,143.98 L477.51,144.71 L477.58,144.82 L477.66,144.93 L477.73,145.04 L477.8,145.15 L477.88,145.26 L477.95,145.37 L478.02,145.48 L478.09,145.58 L478.16,145.69 L478.23,145.8 L478.3,145.9 L478.37,146.01 L478.44,146.11 L478.51,146.22 L478.58,146.32 L478.65,146.42 L478.72,146.53 L478.79,146.63 L478.85,146.73 L478.92,146.83 L478.9,147.5 L489.1,163.5 L501.9,182.6 L514.6,201.7 L525,217.6 L527.9,223 L530.8,225.9 L533,228.8 L534.4,231.7 L535.9,233.8 L538,236.7 L538.6,236.7 L538.6,235.6 L539.2,235.6 L539.5,238.9 L540.9,241.8 L543.1,244.7 L545.3,248.3 L545.6,246.6 L546.2,246.6 L546.7,249.8 L548.9,252.7 L551.8,255.6 L552.6,255.6 L552.6,254.6 L553.2,254.6 L554,257 L556.2,258.5 L557.9,260.2 L559.1,263.7 L559.6,264.3 L562.5,264.3 L563.7,266.6 L564.9,266.6 L564.9,265.2 L566,265.2 L566,268.9 L567.2,270.1 L568.9,271.2 L569.8,273 L571.6,273 L571.6,271.2 L573,271.2 L573,275.3 L573.9,275.3 L573.9,273.3 L576.5,273.3 L576.5,276.5 L577.6,276.5 L577.6,275.9 L580,275.9 L580,278.8 L584.6,278.8 L584.6,276.1 L585.7,276.1 L585.7,278.8 L586.3,278.8 L586.9,283.4 L589.8,283.4 L589.8,279 L591,279 L591,283.4 L606,283.4 L606,284 L606.9,284 L606.9,291.5 L640.9,291.5 L640.9,302.3 Z" fill="#6CBDEA"/><rect x="642" y="291.5" width="5.9" height="12" fill="#6CBDEA"/><rect x="649" y="291.5" width="4.1" height="12" fill="#6CBDEA"/><rect x="657" y="291.5" width="0.8" height="12" fill="#6CBDEA"/><rect x="658.7" y="291.5" width="4.4" height="12" fill="#6CBDEA"/><rect x="665.4" y="291.5" width="1.4" height="12" fill="#6CBDEA"/><line x1="454.75" y1="301.3" x2="454.75" y2="46.0" stroke="#222" stroke-width="0.8" stroke-dasharray="2.8,1.53"/><line x1="464.88" y1="301.3" x2="464.88" y2="46.0" stroke="#222" stroke-width="0.8" stroke-dasharray="2.8,1.53"/><line x1="470.8" y1="301.3" x2="470.8" y2="46.0" stroke="#222" stroke-width="0.8" stroke-dasharray="2.8,1.53"/><line x1="475.01" y1="301.3" x2="475.01" y2="46.0" stroke="#222" stroke-width="0.8" stroke-dasharray="2.8,1.53"/><path d="M400.3,299.77 L410.43,277.61 L416.36,259.52 L420.56,244.19 L423.82,230.91 L426.48,219.23 L428.74,208.86 L430.69,199.57 L432.41,191.21 L433.95,183.64 L435.34,176.78 L436.61,170.52 L437.78,164.82 L438.87,159.61 L439.88,154.85 L440.82,150.49 L441.7,146.49 L442.54,142.84 L443.33,139.49 L444.08,136.44 L444.79,133.65 L445.47,131.1 L446.12,128.79 L446.74,126.69 L447.34,124.79 L447.91,123.09 L448.47,121.56 L449,120.19 L449.51,118.99 L450.01,117.93 L450.48,117.02 L450.95,116.23 L451.4,115.57 L451.83,115.03 L452.26,114.6 L452.67,114.27 L453.07,114.04 L453.46,113.9 L453.84,113.83 L454.21,113.84 L454.57,113.9 L454.92,114.02 L455.27,114.17 L455.6,114.35 L455.93,114.53 L456.25,114.7 L456.57,114.84 L456.87,114.93 L457.18,114.96 L457.47,114.9 L457.76,114.76 L458.04,114.52 L458.32,114.19 L458.6,113.76 L458.86,113.24 L459.13,112.66 L459.39,112.01 L459.64,111.32 L459.89,110.6 L460.13,109.87 L460.38,109.14 L460.61,108.42 L460.85,107.71 L461.08,107.03 L461.3,106.39 L461.53,105.77 L461.75,105.2 L461.96,104.67 L462.18,104.19 L462.39,103.74 L462.59,103.34 L462.8,102.99 L463,102.68 L463.2,102.41 L463.4,102.19 L463.59,102.01 L463.78,101.87 L463.97,101.77 L464.16,101.71 L464.34,101.7 L464.52,101.72 L464.7,101.78 L464.88,101.88 L465.05,102.02 L465.22,102.19 L465.4,102.4 L465.56,102.65 L465.73,102.93 L465.9,103.25 L466.06,103.61 L466.22,104 L466.38,104.43 L466.54,104.89 L466.7,105.39 L466.85,105.92 L467,106.49 L467.15,107.1 L467.3,107.73 L467.45,108.41 L467.6,109.12 L467.75,109.86 L467.89,110.64 L468.03,111.45 L468.17,112.3 L468.31,113.18 L468.45,114.1 L468.59,115.05 L468.72,116.04 L468.86,117.06 L468.99,118.11 L469.13,119.2 L469.26,120.32 L469.39,121.47 L469.51,122.65 L469.64,123.87 L469.77,125.12 L469.89,126.41 L470.02,127.72 L470.14,129.07 L470.26,130.44 L470.39,131.85 L470.51,133.29 L470.63,134.76 L470.74,136.27 L470.86,137.8 L470.98,139.36 L471.09,140.95 L471.21,142.57 L471.32,144.22 L471.43,145.9 L471.55,147.6 L471.66,149.34 L471.77,151.1 L471.88,152.89 L471.99,154.71 L472.09,156.55 L472.2,158.42 L472.31,160.32 L472.41,162.24 L472.52,164.19 L472.62,166.17 L472.72,168.17 L472.83,170.19 L472.93,172.24 L473.03,174.32 L473.13,176.42 L473.23,178.54 L473.33,180.69 L473.43,182.86 L473.53,185.06 L473.62,187.27 L473.72,189.51 L473.81,191.78 L473.91,194.06 L474,196.37 L474.1,198.7 L474.19,201.05 L474.28,203.43 L474.38,205.82 L474.47,208.24 L474.56,210.67 L474.65,213.13 L474.74,215.61 L474.83,218.11 L474.92,220.63 L475.01,223.16 L475.09,225.72 L475.18,228.3 L475.27,230.9 L475.35,233.51 L475.44,236.15 L475.53,238.8 L475.61,241.47 L475.69,244.16 L475.78,246.87 L475.86,249.6 L475.94,252.34 L476.03,255.1 L476.11,257.88 L476.19,260.68 L476.27,263.49 L476.35,266.32 L476.43,269.17 L476.51,272.04 L476.59,274.92 L476.67,277.81 L476.75,280.73 L476.83,283.66 L476.9,286.6 L476.98,289.57 L477.06,292.54 L477.13,295.54 L477.21,298.54 L477.28,301.57 L477.36,304.61 L477.43,306.3 L477.51,306.3 L477.58,306.3 L477.66,306.3 L477.73,306.3 L477.8,306.3 L477.88,306.3 L477.95,306.3 L478.02,306.3 L478.09,306.3 L478.16,306.3 L478.23,306.3 L478.3,306.3 L478.37,306.3 L478.44,306.3 L478.51,306.3 L478.58,306.3 L478.65,306.3 L478.72,306.3 L478.79,306.3 L478.85,306.3 L478.92,306.3 L478.99,306.3 L479.06,306.3 L479.12,306.3 L479.19,306.3 L479.25,306.3 L479.32,306.3 L479.39,306.3 L479.45,306.3 L479.52,306.3 L479.58,306.3 L479.64,306.3 L479.71,306.3 L479.77,306.3 L479.84,306.3 L479.9,306.3 L479.96,306.3 L480.02,306.3 L480.09,306.3 L480.15,306.3 L480.21,306.3 L480.27,306.3 L480.33,306.3 L480.39,306.3 L480.45,306.3 L480.52,306.3 L480.58,306.3 L480.64,306.3 L480.7,306.3 L480.75,306.3 L480.81,306.3 L480.87,306.3 L480.93,306.3 L480.99,306.3 L481.05,306.3 L481.11,306.3 L481.17,306.3 L481.22,306.3 L481.28,306.3 L481.34,306.3 L481.39,306.3 L481.45,306.3 L481.51,306.3 L481.56,306.3 L481.62,306.3 L481.68,306.3 L481.73,306.3 L481.79,306.3 L481.84,306.3 L481.9,306.3 L481.95,306.3 L482.01,306.3 L482.06,306.3 L482.12,306.3 L482.17,306.3 L482.22,306.3 L482.28,306.3 L482.33,306.3 L482.38,306.3 L482.44,306.3 L482.49,306.3 L482.54,306.3 L482.59,306.3 L482.65,306.3 L482.7,306.3 L482.75,306.3 L482.8,306.3 L482.85,306.3 L482.91,306.3 L482.96,306.3 L483.01,306.3 L483.06,306.3 L483.11,306.3 L483.16,306.3 L483.21,306.3 L483.26,306.3 L483.31,306.3 L483.36,306.3 L483.41,306.3 L483.46,306.3 L483.51,306.3 L483.56,306.3 L483.61,306.3 L483.66,306.3 L483.7,306.3 L483.75,306.3 L483.8,306.3 L483.85,306.3 L483.9,306.3 L483.94,306.3 L483.99,306.3 L484.04,306.3 L484.09,306.3 L484.13,306.3 L484.18,306.3 L484.23,306.3 L484.28,306.3 L484.32,306.3 L484.37,306.3 L484.41,306.3 L484.46,306.3 L484.51,306.3 L484.55,306.3 L484.6,306.3 L484.64,306.3 L484.69,306.3 L484.73,306.3 L484.78,306.3 L484.82,306.3 L484.87,306.3 L484.91,306.3 L484.96,306.3 L485,306.3 L485.05,306.3 L485.09,306.3 L485.14,306.3 L485.18,306.3 L485.22,306.3 L485.27,306.3 L485.31,306.3 L485.35,306.3 L485.4,306.3 L485.44,306.3 L485.48,306.3 L485.53,306.3 L485.57,306.3 L485.61,306.3 L485.66,306.3 L485.7,306.3 L485.74,306.3 L485.78,306.3 L485.82,306.3 L485.87,306.3 L485.91,306.3 L485.95,306.3 L485.99,306.3 L486.03,306.3 L486.07,306.3 L486.12,306.3 L486.16,306.3 L486.2,306.3 L486.24,306.3 L486.28,306.3 L486.32,306.3 L486.36,306.3 L486.4,306.3 L486.44,306.3 L486.48,306.3 L486.52,306.3 L486.56,306.3 L486.6,306.3 L486.64,306.3 L486.68,306.3 L486.72,306.3 L486.76,306.3 L486.8,306.3 L486.84,306.3 L486.88,306.3 L486.92,306.3 L486.96,306.3 L486.99,306.3 L487.03,306.3 L487.07,306.3 L487.11,306.3 L487.15,306.3 L487.19,306.3 L487.22,306.3 L487.26,306.3 L487.3,306.3 L487.34,306.3 L487.38,306.3 L487.41,306.3 L487.45,306.3 L487.49,306.3 L487.53,306.3 L487.56,306.3 L487.6,306.3 L487.64,306.3 L487.68,306.3 L487.71,306.3 L487.75,306.3 L487.79,306.3 L487.82,306.3" fill="none" stroke="#E4EC40" stroke-width="1.7" stroke-linejoin="round"/><path d="M400.3,298.77 L410.43,276.61 L416.36,258.52 L420.56,243.19 L423.82,229.91 L426.48,218.23 L428.74,207.86 L430.69,198.57 L432.41,190.21 L433.95,182.64 L435.34,175.77 L436.61,169.52 L437.78,163.82 L438.87,158.61 L439.88,153.84 L440.82,149.48 L441.7,145.49 L442.54,141.84 L443.33,138.49 L444.08,135.43 L444.79,132.64 L445.47,130.1 L446.12,127.79 L446.74,125.69 L447.34,123.79 L447.91,122.08 L448.47,120.56 L449,119.19 L449.51,117.99 L450.01,116.93 L450.48,116.01 L450.95,115.23 L451.4,114.57 L451.83,114.03 L452.26,113.6 L452.67,113.28 L453.07,113.05 L453.46,112.91 L453.84,112.85 L454.21,112.86 L454.57,112.94 L454.92,113.07 L455.27,113.23 L455.6,113.43 L455.93,113.63 L456.25,113.83 L456.57,114.01 L456.87,114.14 L457.18,114.22 L457.47,114.22 L457.76,114.14 L458.04,113.96 L458.32,113.68 L458.6,113.32 L458.86,112.86 L459.13,112.33 L459.39,111.73 L459.64,111.08 L459.89,110.4 L460.13,109.71 L460.38,109 L460.61,108.3 L460.85,107.62 L461.08,106.96 L461.3,106.32 L461.53,105.72 L461.75,105.16 L461.96,104.64 L462.18,104.16 L462.39,103.72 L462.59,103.32 L462.8,102.97 L463,102.66 L463.2,102.4 L463.4,102.18 L463.59,102 L463.78,101.86 L463.97,101.77 L464.16,101.71 L464.34,101.69 L464.52,101.72 L464.7,101.78 L464.88,101.88 L465.05,102.01 L465.22,102.19 L465.4,102.4 L465.56,102.65 L465.73,102.93 L465.9,103.25 L466.06,103.6 L466.22,103.99 L466.38,104.42 L466.54,104.88 L466.7,105.37 L466.85,105.9 L467,106.46 L467.15,107.06 L467.3,107.69 L467.45,108.35 L467.6,109.04 L467.75,109.76 L467.89,110.51 L468.03,111.28 L468.17,112.08 L468.31,112.91 L468.45,113.75 L468.59,114.62 L468.72,115.5 L468.86,116.39 L468.99,117.29 L469.13,118.2 L469.26,119.11 L469.39,120.02 L469.51,120.93 L469.64,121.82 L469.77,122.71 L469.89,123.58 L470.02,124.43 L470.14,125.26 L470.26,126.07 L470.39,126.85 L470.51,127.61 L470.63,128.35 L470.74,129.06 L470.86,129.74 L470.98,130.39 L471.09,131.01 L471.21,131.6 L471.32,132.16 L471.43,132.68 L471.55,133.16 L471.66,133.6 L471.77,133.99 L471.88,134.34 L471.99,134.63 L472.09,134.86 L472.2,135.04 L472.31,135.17 L472.41,135.23 L472.52,135.25 L472.62,135.21 L472.72,135.13 L472.83,135.01 L472.93,134.86 L473.03,134.68 L473.13,134.47 L473.23,134.25 L473.33,134.02 L473.43,133.79 L473.53,133.55 L473.62,133.32 L473.72,133.09 L473.81,132.88 L473.91,132.68 L474,132.5 L474.1,132.34 L474.19,132.19 L474.28,132.07 L474.38,131.97 L474.47,131.89 L474.56,131.83 L474.65,131.8 L474.74,131.8 L474.83,131.81 L474.92,131.86 L475.01,131.92 L475.09,132.01 L475.18,132.13 L475.27,132.27 L475.35,132.44 L475.44,132.62 L475.53,132.84 L475.61,133.08 L475.69,133.34 L475.78,133.62 L475.86,133.93 L475.94,134.26 L476.03,134.61 L476.11,134.99 L476.19,135.39 L476.27,135.81 L476.35,136.25 L476.43,136.72 L476.51,137.21 L476.59,137.72 L476.67,138.25 L476.75,138.8 L476.83,139.37 L476.9,139.96 L476.98,140.58 L477.06,141.21 L477.13,141.87 L477.21,142.54 L477.28,143.24 L477.36,143.95 L477.43,144.68 L477.51,145.44 L477.58,146.21 L477.66,147 L477.73,147.81 L477.8,148.64 L477.88,149.49 L477.95,150.36 L478.02,151.24 L478.09,152.15 L478.16,153.07 L478.23,154.01 L478.3,154.96 L478.37,155.94 L478.44,156.93 L478.51,157.94 L478.58,158.97 L478.65,160.01 L478.72,161.07 L478.79,162.15 L478.85,163.24 L478.92,164.35 L478.99,165.48 L479.06,166.62 L479.12,167.78 L479.19,168.95 L479.25,170.15 L479.32,171.35 L479.39,172.58 L479.45,173.81 L479.52,175.07 L479.58,176.34 L479.64,177.62 L479.71,178.92 L479.77,180.23 L479.84,181.56 L479.9,182.91 L479.96,184.26 L480.02,185.64 L480.09,187.02 L480.15,188.42 L480.21,189.84 L480.27,191.27 L480.33,192.71 L480.39,194.17 L480.45,195.64 L480.52,197.13 L480.58,198.63 L480.64,200.14 L480.7,201.67 L480.75,203.21 L480.81,204.76 L480.87,206.32 L480.93,207.9 L480.99,209.49 L481.05,211.1 L481.11,212.72 L481.17,214.35 L481.22,215.99 L481.28,217.64 L481.34,219.31 L481.39,220.99 L481.45,222.68 L481.51,224.39 L481.56,226.11 L481.62,227.83 L481.68,229.57 L481.73,231.33 L481.79,233.09 L481.84,234.87 L481.9,236.66 L481.95,238.46 L482.01,240.27 L482.06,242.09 L482.12,243.92 L482.17,245.77 L482.22,247.62 L482.28,249.49 L482.33,251.37 L482.38,253.26 L482.44,255.16 L482.49,257.07 L482.54,258.99 L482.59,260.92 L482.65,262.87 L482.7,264.82 L482.75,266.79 L482.8,268.76 L482.85,270.75 L482.91,272.74 L482.96,274.75 L483.01,276.76 L483.06,278.79 L483.11,280.83 L483.16,282.87 L483.21,284.93 L483.26,287 L483.31,289.07 L483.36,291.16 L483.41,293.25 L483.46,295.36 L483.51,297.47 L483.56,299.6 L483.61,301.73 L483.66,303.88 L483.7,306.03 L483.75,306.3 L483.8,306.3 L483.85,306.3 L483.9,306.3 L483.94,306.3 L483.99,306.3 L484.04,306.3 L484.09,306.3 L484.13,306.3 L484.18,306.3 L484.23,306.3 L484.28,306.3 L484.32,306.3 L484.37,306.3 L484.41,306.3 L484.46,306.3 L484.51,306.3 L484.55,306.3 L484.6,306.3 L484.64,306.3 L484.69,306.3 L484.73,306.3 L484.78,306.3 L484.82,306.3 L484.87,306.3 L484.91,306.3 L484.96,306.3 L485,306.3 L485.05,306.3 L485.09,306.3 L485.14,306.3 L485.18,306.3 L485.22,306.3 L485.27,306.3 L485.31,306.3 L485.35,306.3 L485.4,306.3 L485.44,306.3 L485.48,306.3 L485.53,306.3 L485.57,306.3 L485.61,306.3 L485.66,306.3 L485.7,306.3 L485.74,306.3 L485.78,306.3 L485.82,306.3 L485.87,306.3 L485.91,306.3 L485.95,306.3 L485.99,306.3 L486.03,306.3 L486.07,306.3 L486.12,306.3 L486.16,306.3 L486.2,306.3 L486.24,306.3 L486.28,306.3 L486.32,306.3 L486.36,306.3 L486.4,306.3 L486.44,306.3 L486.48,306.3 L486.52,306.3 L486.56,306.3 L486.6,306.3 L486.64,306.3 L486.68,306.3 L486.72,306.3 L486.76,306.3 L486.8,306.3 L486.84,306.3 L486.88,306.3 L486.92,306.3 L486.96,306.3 L486.99,306.3 L487.03,306.3 L487.07,306.3 L487.11,306.3 L487.15,306.3 L487.19,306.3 L487.22,306.3 L487.26,306.3 L487.3,306.3 L487.34,306.3 L487.38,306.3 L487.41,306.3 L487.45,306.3 L487.49,306.3 L487.53,306.3 L487.56,306.3 L487.6,306.3 L487.64,306.3 L487.68,306.3 L487.71,306.3 L487.75,306.3 L487.79,306.3 L487.82,306.3" fill="none" stroke="#000" stroke-width="1.8" stroke-linejoin="round"/><path d="M400.3,55.07 L410.43,84.42 L416.36,99.94 L420.56,106.99 L423.82,112.82 L426.48,117.35 L428.74,120.76 L430.69,123.11 L432.41,125.46 L433.95,126.5 L435.34,126.97 L436.61,127.53 L437.78,127.82 L438.87,128.11 L439.88,128.29 L440.82,128.41 L441.7,129.04 L442.54,129.71 L443.33,130.8 L444.08,131.99 L444.79,133.33 L445.47,135.4 L446.12,137.25 L446.74,139.45 L447.34,142.19 L447.91,147.32 L448.47,153.68 L449,306.3" fill="none" stroke="#D55E00" stroke-width="1.7" stroke-linejoin="round"/></g>
<line x1="42.0" y1="46.0" x2="330.1" y2="46.0" stroke="#555" stroke-width="1"/>
<line x1="329.6" y1="46.0" x2="329.6" y2="301.3" stroke="#777" stroke-width="1"/>
<line x1="42.5" y1="46.0" x2="42.5" y2="301.8" stroke="#333" stroke-width="1"/>
<line x1="42.5" y1="301.3" x2="330.1" y2="301.3" stroke="#333" stroke-width="1"/>
<line x1="389.0" y1="46.0" x2="677.1" y2="46.0" stroke="#555" stroke-width="1"/>
<line x1="676.6" y1="46.0" x2="676.6" y2="301.3" stroke="#777" stroke-width="1"/>
<line x1="389.5" y1="46.0" x2="389.5" y2="301.8" stroke="#333" stroke-width="1"/>
<line x1="389.5" y1="301.3" x2="677.1" y2="301.3" stroke="#333" stroke-width="1"/>
<line x1="53.4" y1="301.3" x2="53.4" y2="306.8" stroke="#333"/>
<text x="53.4" y="320.6" text-anchor="middle" class="t">0</text>
<line x1="108.1" y1="301.3" x2="108.1" y2="306.8" stroke="#333"/>
<text x="108.1" y="320.6" text-anchor="middle" class="t">50</text>
<line x1="162.8" y1="301.3" x2="162.8" y2="306.8" stroke="#333"/>
<text x="162.8" y="320.6" text-anchor="middle" class="t">100</text>
<line x1="217.5" y1="301.3" x2="217.5" y2="306.8" stroke="#333"/>
<text x="217.5" y="320.6" text-anchor="middle" class="t">150</text>
<line x1="272.2" y1="301.3" x2="272.2" y2="306.8" stroke="#333"/>
<text x="272.2" y="320.6" text-anchor="middle" class="t">200</text>
<line x1="326.9" y1="301.3" x2="326.9" y2="306.8" stroke="#333"/>
<text x="326.9" y="320.6" text-anchor="middle" class="t">250</text>
<line x1="37.0" y1="292" x2="42.5" y2="292" stroke="#333"/>
<text transform="translate(30.4,292) rotate(-90)" text-anchor="middle" class="t">0.0e+00</text>
<line x1="37.0" y1="240.38" x2="42.5" y2="240.38" stroke="#333"/>
<text transform="translate(30.4,240.38) rotate(-90)" text-anchor="middle" class="t">5.0e+06</text>
<line x1="37.0" y1="188.75" x2="42.5" y2="188.75" stroke="#333"/>
<text transform="translate(30.4,188.75) rotate(-90)" text-anchor="middle" class="t">1.0e+07</text>
<line x1="37.0" y1="137.12" x2="42.5" y2="137.12" stroke="#333"/>
<text transform="translate(30.4,137.12) rotate(-90)" text-anchor="middle" class="t">1.5e+07</text>
<line x1="37.0" y1="85.5" x2="42.5" y2="85.5" stroke="#333"/>
<text transform="translate(30.4,85.5) rotate(-90)" text-anchor="middle" class="t">2.0e+07</text>
<line x1="400.3" y1="301.3" x2="400.3" y2="306.8" stroke="#333"/>
<text x="400.3" y="320.6" text-anchor="middle" class="t">1e+00</text>
<line x1="433.95" y1="301.3" x2="433.95" y2="306.8" stroke="#333"/>
<line x1="467.6" y1="301.3" x2="467.6" y2="306.8" stroke="#333"/>
<text x="467.6" y="320.6" text-anchor="middle" class="t">1e+02</text>
<line x1="501.25" y1="301.3" x2="501.25" y2="306.8" stroke="#333"/>
<line x1="534.9" y1="301.3" x2="534.9" y2="306.8" stroke="#333"/>
<text x="534.9" y="320.6" text-anchor="middle" class="t">1e+04</text>
<line x1="568.55" y1="301.3" x2="568.55" y2="306.8" stroke="#333"/>
<line x1="602.2" y1="301.3" x2="602.2" y2="306.8" stroke="#333"/>
<text x="602.2" y="320.6" text-anchor="middle" class="t">1e+06</text>
<line x1="635.85" y1="301.3" x2="635.85" y2="306.8" stroke="#333"/>
<line x1="669.5" y1="301.3" x2="669.5" y2="306.8" stroke="#333"/>
<text x="669.5" y="320.6" text-anchor="middle" class="t">1e+08</text>
<line x1="384.0" y1="292.3" x2="389.5" y2="292.3" stroke="#333"/>
<text transform="translate(377.6,292.3) rotate(-90)" text-anchor="middle" class="t">1e+00</text>
<line x1="384.0" y1="266.15" x2="389.5" y2="266.15" stroke="#333"/>
<line x1="384.0" y1="240" x2="389.5" y2="240" stroke="#333"/>
<text transform="translate(377.6,240) rotate(-90)" text-anchor="middle" class="t">1e+02</text>
<line x1="384.0" y1="213.85" x2="389.5" y2="213.85" stroke="#333"/>
<line x1="384.0" y1="187.7" x2="389.5" y2="187.7" stroke="#333"/>
<text transform="translate(377.6,187.7) rotate(-90)" text-anchor="middle" class="t">1e+04</text>
<line x1="384.0" y1="161.55" x2="389.5" y2="161.55" stroke="#333"/>
<line x1="384.0" y1="135.4" x2="389.5" y2="135.4" stroke="#333"/>
<text transform="translate(377.6,135.4) rotate(-90)" text-anchor="middle" class="t">1e+06</text>
<line x1="384.0" y1="109.25" x2="389.5" y2="109.25" stroke="#333"/>
<line x1="384.0" y1="83.1" x2="389.5" y2="83.1" stroke="#333"/>
<text transform="translate(377.6,83.1) rotate(-90)" text-anchor="middle" class="t">1e+08</text>
<line x1="384.0" y1="56.95" x2="389.5" y2="56.95" stroke="#333"/>
<text x="186" y="341.5" text-anchor="middle" class="t">Coverage</text>
<text x="533" y="341.5" text-anchor="middle" class="t">Coverage</text>
<text transform="translate(8.6,172.5) rotate(-90)" text-anchor="middle" class="t">Frequency</text>
<text transform="translate(355.6,172.5) rotate(-90)" text-anchor="middle" class="t">Frequency</text>
<text x="186" y="21.6" text-anchor="middle" class="h">GenomeScope Profile</text>
<text x="186" y="31.2" text-anchor="middle" class="s" xml:space="preserve">len:2,415,676,407bp uniq:38.1%  het:0.525% kcov:41.5 err:0.0509%  dup:2.12%  k:21</text>
<text x="533" y="21.6" text-anchor="middle" class="h">GenomeScope Profile</text>
<text x="533" y="31.2" text-anchor="middle" class="s" xml:space="preserve">len:2,415,676,407bp uniq:38.1%  het:0.525% kcov:41.5 err:0.0509%  dup:2.12%  k:21</text>
<text transform="translate(10.9,12.5) scale(0.88,1)" class="p" style="font-size:21.5px">a</text>
<text transform="translate(367,15.9) scale(0.9,1)" class="p" style="font-size:20px">b</text>
<rect x="226.1" y="55.5" width="103.5" height="63.3" fill="#fff" stroke="#333" stroke-width="1"/><line x1="233.5" y1="65.9" x2="250.7" y2="65.9" stroke="#6CBDEA" stroke-width="1.6"/><text x="257.9" y="69.1" class="l">observed</text><line x1="233.5" y1="76.6" x2="250.7" y2="76.6" stroke="#000" stroke-width="1.6"/><text x="257.9" y="79.8" class="l">full model</text><line x1="233.5" y1="87.3" x2="250.7" y2="87.3" stroke="#E4EC40" stroke-width="1.6"/><text x="257.9" y="90.5" class="l">unique sequence</text><line x1="233.5" y1="98" x2="250.7" y2="98" stroke="#D55E00" stroke-width="1.6"/><text x="257.9" y="101.2" class="l">errors</text><line x1="233.5" y1="108.7" x2="250.7" y2="108.7" stroke="#000" stroke-width="1.6" stroke-dasharray="5.6,3.1"/><text x="257.9" y="111.9" class="l">kmer-peaks</text>
<rect x="573.1" y="55.5" width="103.5" height="63.3" fill="#fff" stroke="#333" stroke-width="1"/><line x1="580.5" y1="65.9" x2="597.7" y2="65.9" stroke="#6CBDEA" stroke-width="1.6"/><text x="604.9" y="69.1" class="l">observed</text><line x1="580.5" y1="76.6" x2="597.7" y2="76.6" stroke="#000" stroke-width="1.6"/><text x="604.9" y="79.8" class="l">full model</text><line x1="580.5" y1="87.3" x2="597.7" y2="87.3" stroke="#E4EC40" stroke-width="1.6"/><text x="604.9" y="90.5" class="l">unique sequence</text><line x1="580.5" y1="98" x2="597.7" y2="98" stroke="#D55E00" stroke-width="1.6"/><text x="604.9" y="101.2" class="l">errors</text><line x1="580.5" y1="108.7" x2="597.7" y2="108.7" stroke="#000" stroke-width="1.6" stroke-dasharray="7.3,5"/><text x="604.9" y="111.9" class="l">kmer-peaks</text>
</svg>
</body></html>
